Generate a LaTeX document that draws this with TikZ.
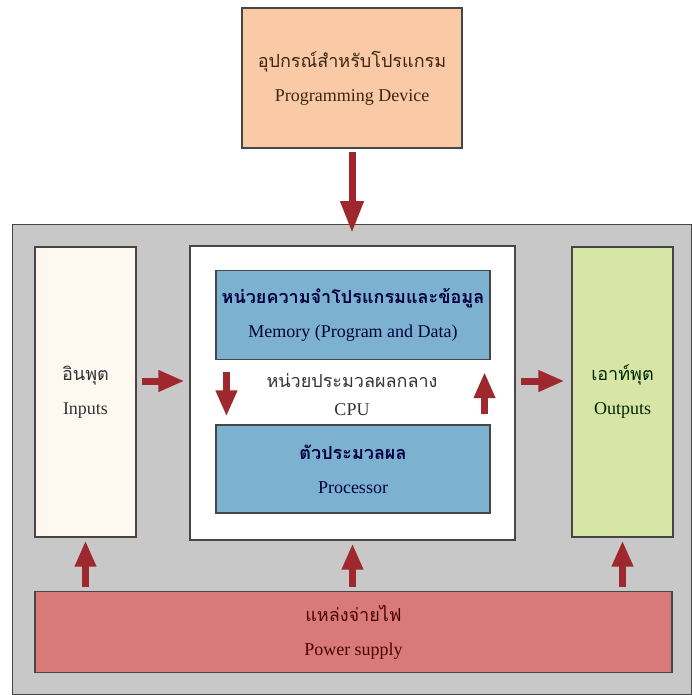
\documentclass[tikz,border=0pt]{standalone}
\usepackage{fontspec}
\setmainfont{Liberation Serif}
\newfontfamily\thaifont[Script=Thai]{Loma}
\usetikzlibrary{arrows.meta}

\definecolor{peach}{RGB}{250,202,166}
\definecolor{panelgray}{RGB}{200,200,200}
\definecolor{cream}{RGB}{253,248,240}
\definecolor{memblue}{RGB}{124,178,207}
\definecolor{outgreen}{RGB}{215,229,166}
\definecolor{powerred}{RGB}{217,122,122}
\definecolor{arrowred}{RGB}{158,40,45}
\definecolor{edgegray}{RGB}{70,70,70}

\begin{document}
\begin{tikzpicture}[x=1pt,y=-1pt,
  box/.style={draw=edgegray, line width=1.1pt, rectangle, align=center,
    inner sep=0pt, font=\fontsize{18}{34}\selectfont},
  panel/.style={draw=edgegray, line width=1.1pt, fill=panelgray, rectangle, inner sep=0pt},
  flow/.style={draw=arrowred, line width=7pt, -{Triangle[width=20pt,length=26pt]}},
  longflow/.style={flow, -{Triangle[width=22pt,length=32pt]}}
]
\useasboundingbox (0,0) rectangle (692,695);

% programming device on top
\node[box, fill=peach, text=black!70!brown, minimum width=220pt, minimum height=140pt]
  (prog) at (352,78) {{\thaifont อุปกรณ์สำหรับโปรแกรม}\\Programming Device};

% grey system panel
\node[panel, minimum width=679pt, minimum height=470pt, anchor=north west]
  (panel) at (12,224) {};

% inputs, cpu, outputs
\node[box, fill=cream, text=black!80, minimum width=101pt, minimum height=290pt]
  (inputs) at (85.5,392) {{\thaifont อินพุต}\\Inputs};
\node[box, fill=white, minimum width=325pt, minimum height=294pt]
  (cpu) at (352.5,393) {};
\node[box, fill=outgreen, text=black!75!green!60!black, minimum width=101pt, minimum height=290pt]
  (outputs) at (622.5,392) {{\thaifont เอาท์พุต}\\Outputs};

% blocks inside the cpu
\node[box, fill=memblue, text=blue!25!black, minimum width=274pt, minimum height=89pt]
  (mem) at (353,315) {{\thaifont\bfseries หน่วยความจำโปรแกรมและข้อมูล}\\Memory (Program and Data)};
\node[box, fill=memblue, text=blue!25!black, minimum width=274pt, minimum height=88pt]
  (proc) at (353,469) {{\thaifont\bfseries ตัวประมวลผล}\\Processor};
\node[align=center, inner sep=0pt, text=black!80, font=\fontsize{18}{28}\selectfont]
  (cpulabel) at (352,395) {{\thaifont หน่วยประมวลผลกลาง}\\CPU};

% power supply
\node[box, fill=powerred, text=red!30!black, minimum width=637pt, minimum height=81pt]
  (power) at (353.5,632) {{\thaifont แหล่งจ่ายไฟ}\\Power supply};

% connectors
\coordinate (row) at (0,381);
\draw[longflow] ([yshift=-3pt]prog.south) -- ([yshift=-9pt]prog.south |- panel.north);
\draw[flow] ([xshift=5pt]inputs.east |- row) -- ([xshift=-5pt]cpu.west |- row);
\draw[flow] ([xshift=5pt]cpu.east |- row) -- ([xshift=-7pt]outputs.west |- row);
\draw[flow] ([xshift=11pt,yshift=-12pt]mem.south west) -- ([xshift=11pt,yshift=8pt]proc.north west);
\draw[flow] ([xshift=-6pt,yshift=10pt]proc.north east) -- ([xshift=-6pt,yshift=-12pt]mem.south east);
\draw[flow] ([yshift=4pt]inputs.south |- power.north) -- ([yshift=-3pt]inputs.south);
\draw[flow] ([yshift=4pt]cpu.south |- power.north) -- ([yshift=-3pt]cpu.south);
\draw[flow] ([yshift=4pt]outputs.south |- power.north) -- ([yshift=-3pt]outputs.south);
\end{tikzpicture}
\end{document}
